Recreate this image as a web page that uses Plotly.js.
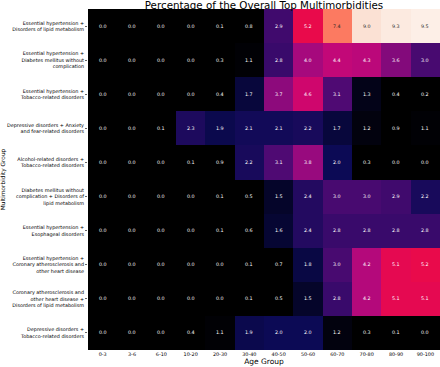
<!DOCTYPE html>
<html>
<head>
<meta charset="utf-8">
<script src="https://cdn.plot.ly/plotly-3.0.1.min.js"></script>
<style>html,body{margin:0;padding:0;background:#fff;}#chart{width:440px;height:367px;}</style>
</head>
<body>
<div id="chart"></div>
<script>
const ageGroups = ["0-3","3-6","6-10","10-20","20-30","30-40","40-50","50-60","60-70","70-80","80-90","90-100"];
const groups = [
  "Essential hypertension +<br>Disorders of lipid metabolism",
  "Essential hypertension +<br>Diabetes mellitus without<br>complication",
  "Essential hypertension +<br>Tobacco-related disorders",
  "Depressive disorders + Anxiety<br>and fear-related disorders",
  "Alcohol-related disorders +<br>Tobacco-related disorders",
  "Diabetes mellitus without<br>complication + Disorders of<br>lipid metabolism",
  "Essential hypertension +<br>Esophageal disorders",
  "Essential hypertension +<br>Coronary atherosclerosis and<br>other heart disease",
  "Coronary atherosclerosis and<br>other heart disease +<br>Disorders of lipid metabolism",
  "Depressive disorders +<br>Tobacco-related disorders"
];
const htnLipid      = [0.0,0.0,0.0,0.0,0.1,0.8,2.9,5.2,7.4,9.0,9.3,9.5];
const htnDiabetes   = [0.0,0.0,0.0,0.0,0.3,1.1,2.8,4.0,4.4,4.3,3.6,3.0];
const htnTobacco    = [0.0,0.0,0.0,0.0,0.4,1.7,3.7,4.6,3.1,1.3,0.4,0.2];
const depAnxiety    = [0.0,0.0,0.1,2.3,1.9,2.1,2.1,2.2,1.7,1.2,0.9,1.1];
const alcTobacco    = [0.0,0.0,0.0,0.1,0.9,2.2,3.1,3.8,2.0,0.3,0.0,0.0];
const diabLipid     = [0.0,0.0,0.0,0.0,0.1,0.5,1.5,2.4,3.0,3.0,2.9,2.2];
const htnEsophageal = [0.0,0.0,0.0,0.0,0.1,0.6,1.6,2.4,2.8,2.8,2.8,2.8];
const htnCoronary   = [0.0,0.0,0.0,0.0,0.0,0.1,0.7,1.8,3.0,4.2,5.1,5.2];
const coronaryLipid = [0.0,0.0,0.0,0.0,0.0,0.1,0.5,1.5,2.8,4.2,5.1,5.1];
const depTobacco    = [0.0,0.0,0.0,0.4,1.1,1.9,2.0,2.0,1.2,0.3,0.1,0.0];

const z = [htnLipid, htnDiabetes, htnTobacco, depAnxiety, alcTobacco, diabLipid, htnEsophageal, htnCoronary, coronaryLipid, depTobacco];

const colorscale = [
  [0.0,   "#000000"],
  [0.11,  "#000000"],
  [0.16,  "#05052c"],
  [0.21,  "#0c0a55"],
  [0.30,  "#3c0a6c"],
  [0.33,  "#520a74"],
  [0.40,  "#980a7e"],
  [0.46,  "#c0087a"],
  [0.49,  "#d2066a"],
  [0.55,  "#ea0a4a"],
  [0.78,  "#fc7b61"],
  [0.95,  "#fbe3d6"],
  [1.0,   "#fdefe7"]
];

const trace = {
  type: "heatmap",
  z: z,
  x: ageGroups,
  y: groups,
  zmin: 0,
  zmax: 9.5,
  colorscale: colorscale,
  showscale: false,
  hoverinfo: "none"
};

const annotations = [];
z.forEach((row, i) => {
  row.forEach((v, j) => {
    annotations.push({
      x: ageGroups[j], y: groups[i], xref: "x", yref: "y",
      text: v.toFixed(1), showarrow: false,
      font: {family: "DejaVu Sans", size: 4.8, color: v >= 6 ? "#262626" : "#ffffff"}
    });
  });
});

const layout = {
  width: 440, height: 367,
  margin: {l: 88, r: 0, t: 9, b: 17},
  paper_bgcolor: "#ffffff",
  plot_bgcolor: "#ffffff",
  font: {family: "DejaVu Sans", color: "#000000"},
  title: {text: "Percentage of the Overall Top Multimorbidities", font: {size: 10.3, family: "DejaVu Sans", color: "#000000"}, x: 0.5, xref: "paper", xanchor: "center", y: 1, yref: "paper", yanchor: "bottom", pad: {b: 0, t: 0}},
  annotations: annotations,
  xaxis: {
    title: {text: "Age Group", font: {size: 7.5, color: "#000000"}, standoff: 1},
    tickfont: {size: 4.9, color: "#000000"},
    ticks: "",
    showgrid: false, zeroline: false, showline: false
  },
  yaxis: {
    title: {text: "Multimorbidity Group", font: {size: 5.8, color: "#000000"}, standoff: 4},
    tickfont: {size: 4.9, color: "#000000"},
    autorange: "reversed",
    ticks: "outside", ticklen: 2, tickwidth: 0.6, tickcolor: "#000000",
    showgrid: false, zeroline: false, showline: false
  }
};

Plotly.newPlot("chart", [trace], layout, {displayModeBar: false, staticPlot: true});
</script>
</body>
</html>
